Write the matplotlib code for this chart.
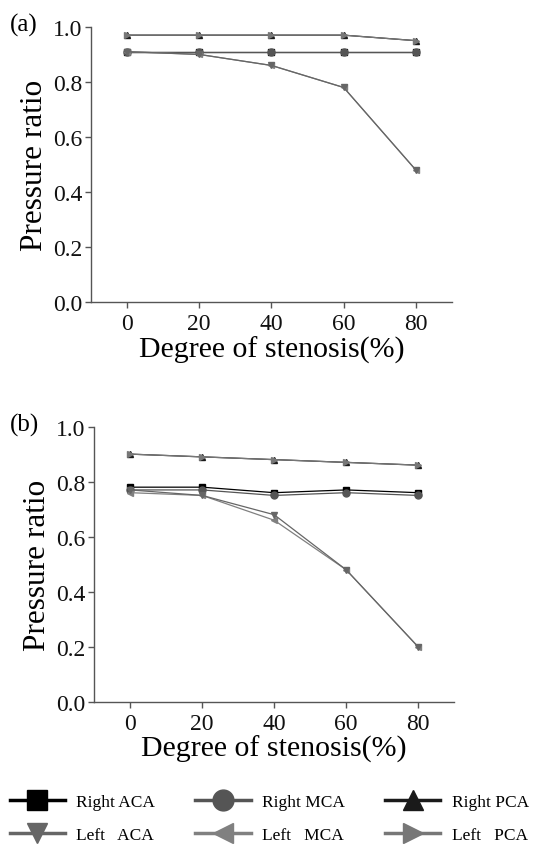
import numpy as np
import matplotlib.pyplot as plt

plt.rcParams['font.family'] = ['Liberation Serif', 'DejaVu Serif']

stenosis = [0, 20, 40, 60, 80]

# panel (a)
a_right_aca = [0.91, 0.91, 0.91, 0.91, 0.91]
a_right_mca = [0.91, 0.91, 0.91, 0.91, 0.91]
a_right_pca = [0.97, 0.97, 0.97, 0.97, 0.95]
a_left_aca = [0.91, 0.90, 0.86, 0.78, 0.48]
a_left_mca = [0.91, 0.90, 0.86, 0.78, 0.48]
a_left_pca = [0.97, 0.97, 0.97, 0.97, 0.95]

# panel (b)
b_right_aca = [0.78, 0.78, 0.76, 0.77, 0.76]
b_right_mca = [0.77, 0.77, 0.75, 0.76, 0.75]
b_right_pca = [0.90, 0.89, 0.88, 0.87, 0.86]
b_left_aca = [0.77, 0.75, 0.68, 0.48, 0.20]
b_left_mca = [0.76, 0.75, 0.66, 0.48, 0.20]
b_left_pca = [0.90, 0.89, 0.88, 0.87, 0.86]

labels = ['Right ACA', 'Right MCA', 'Right PCA',
          'Left   ACA', 'Left   MCA', 'Left   PCA']
markers = ['s', 'o', '^', 'v', '<', '>']
colors = ['#000000', '#555555', '#1a1a1a', '#666666', '#808080', '#777777']

fig = plt.figure(figsize=(5.44, 8.45), dpi=100)
ax1 = fig.add_axes([0.167, 0.641, 0.664, 0.326])
ax2 = fig.add_axes([0.173, 0.168, 0.662, 0.326])

panels = [
    (ax1, [a_right_aca, a_right_mca, a_right_pca, a_left_aca, a_left_mca, a_left_pca], '(a)', 0.970),
    (ax2, [b_right_aca, b_right_mca, b_right_pca, b_left_aca, b_left_mca, b_left_pca], '(b)', 0.497),
]

draw_order = [0, 1, 2, 4, 3, 5]
for ax, series, tag, ty in panels:
    lines = {}
    for i in draw_order:
        ln, = ax.plot(stenosis, series[i], marker=markers[i], color=colors[i],
                      markersize=5, linewidth=0.9, label=labels[i])
        lines[i] = ln
    ax.set_xlim(-10, 90)
    ax.set_ylim(0, 1.0)
    ax.set_xticks(stenosis)
    ax.set_yticks([0.0, 0.2, 0.4, 0.6, 0.8, 1.0])
    ax.set_yticklabels(['0.0', '0.2', '0.4', '0.6', '0.8', '1.0'])
    ax.spines['top'].set_visible(False)
    ax.spines['right'].set_visible(False)
    for s in ['left', 'bottom']:
        ax.spines[s].set_color('#555555')
        ax.spines[s].set_linewidth(1.0)
    ax.tick_params(direction='out', length=4, width=1, color='#555555',
                   labelsize=17, pad=2, labelcolor='#111111')
    ax.tick_params(axis='x', pad=4)
    ax.set_xlabel('Degree of stenosis(%)', fontsize=21.5, labelpad=0.6)
    ax.set_ylabel('Pressure ratio', fontsize=22.5, labelpad=3)
    fig.text(10 / 544, ty, tag, fontsize=18, ha='left', va='center')

handles = [lines[i] for i in [0, 3, 1, 4, 2, 5]]
leg = fig.legend(handles, [h.get_label() for h in handles], ncol=3,
                 loc='center', bbox_to_anchor=(0.495, 0.030), frameon=False,
                 fontsize=12.5, handlelength=3.2, handletextpad=0.65,
                 columnspacing=2.3, labelspacing=1.0, markerscale=3.0)
for ln in leg.get_lines():
    ln.set_linewidth(2.5)

fig.savefig('out.png', dpi=100)
